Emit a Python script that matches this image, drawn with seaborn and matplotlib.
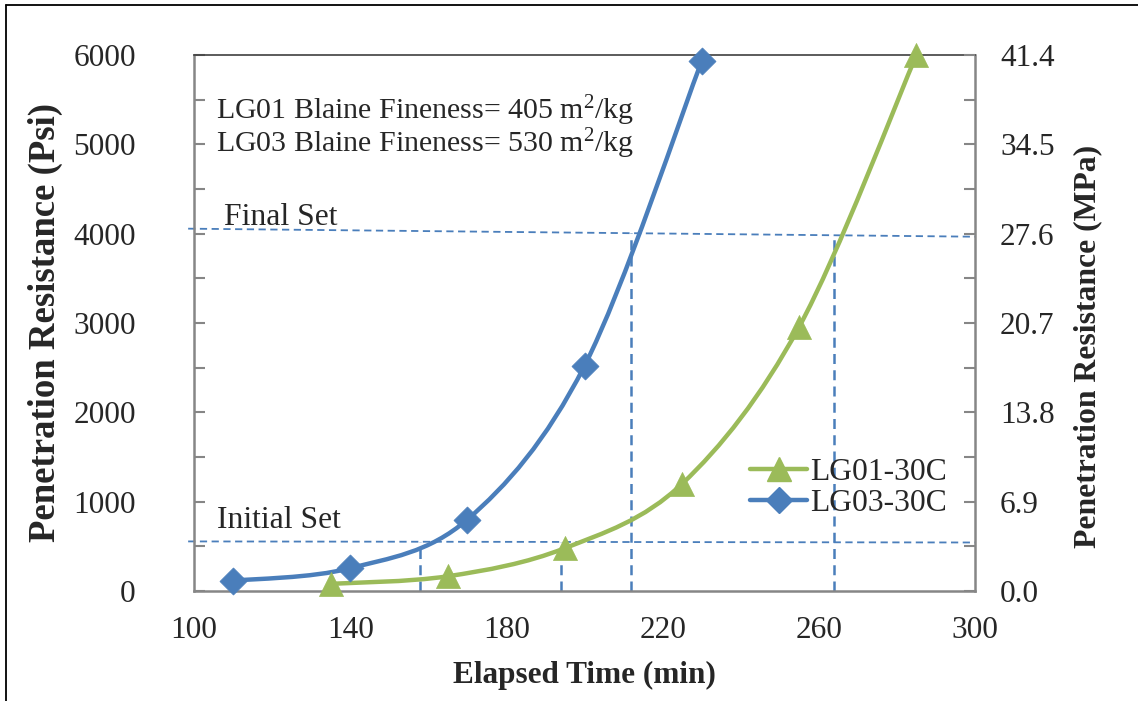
import numpy as np
import matplotlib
matplotlib.use("Agg")
import matplotlib.pyplot as plt
from matplotlib.path import Path
from matplotlib.patches import PathPatch
from matplotlib.lines import Line2D
from matplotlib.ticker import MultipleLocator, FixedLocator, FormatStrFormatter
import seaborn as sns

# Penetration resistance readings (psi) versus elapsed time (min)
lg01_time = [135, 165, 195, 225, 255, 285]
lg01_psi = [80, 165, 480, 1200, 2960, 6000]
lg03_time = [110, 140, 170, 200, 230]
lg03_psi = [115, 255, 800, 2520, 5930]

series_names = ["LG01-30C", "LG03-30C"]
fineness_notes = ["LG01 Blaine Fineness= 405 m$^{2}$/kg",
                  "LG03 Blaine Fineness= 530 m$^{2}$/kg"]

initial_set_x = [98.5, 300]
initial_set_y = [555, 543]
final_set_x = [98.5, 300]
final_set_y = [4056, 3966]
initial_set_times = [158, 194]
final_set_times = [212, 264]

x_ticks = [100, 140, 180, 220, 260, 300]
psi_ticks = [0, 1000, 2000, 3000, 4000, 5000, 6000]
mpa_ticks = [0.0, 6.9, 13.8, 20.7, 27.6, 34.5, 41.4]

BLUE = "#4A7EBB"
GREEN = "#9BBB59"
GREY = "#868686"

sns.set_theme(style="white")
plt.rcParams["font.family"] = ["Liberation Serif", "DejaVu Serif"]
plt.rcParams["mathtext.fontset"] = "custom"
plt.rcParams["mathtext.rm"] = "Liberation Serif"
plt.rcParams["mathtext.it"] = "Liberation Serif:italic"
plt.rcParams["mathtext.bf"] = "Liberation Serif:bold"


def smooth_path(xs, ys, k=1.0 / 6.0):
    """Cubic Bezier path through the points (Catmull-Rom style smoothing)."""
    p = np.column_stack([xs, ys]).astype(float)
    n = len(p)
    verts = [p[0]]
    codes = [Path.MOVETO]
    for i in range(n - 1):
        p_prev = p[i - 1] if i > 0 else p[i]
        p_next2 = p[i + 2] if i + 2 < n else p[i + 1]
        c1 = p[i] + (p[i + 1] - p_prev) * k
        c2 = p[i + 1] - (p_next2 - p[i]) * k
        verts += [c1, c2, p[i + 1]]
        codes += [Path.CURVE4] * 3
    return Path(verts, codes)


W, H = 1138, 701
fig = plt.figure(figsize=(W / 100, H / 100), dpi=100)
ax = fig.add_axes([194 / W, 1 - 591 / H, (975 - 194) / W, (591 - 55) / H])

# dashed guide lines for initial / final set
hdash = dict(color=BLUE, lw=1.3, ls=(0, (4, 2.5)), clip_on=False, zorder=1)
vdash = dict(color=BLUE, lw=1.8, ls=(0, (4, 2.5)), clip_on=False, zorder=1)
ax.plot(initial_set_x, initial_set_y, **hdash)
ax.plot(final_set_x, final_set_y, **hdash)
for t in initial_set_times:
    ax.plot([t, t], [0, np.interp(t, initial_set_x, initial_set_y)], **vdash)
for t in final_set_times:
    ax.plot([t, t], [0, np.interp(t, final_set_x, final_set_y)], **vdash)

# smoothed curves
for xs, ys, c in [(lg03_time, lg03_psi, BLUE), (lg01_time, lg01_psi, GREEN)]:
    ax.add_patch(PathPatch(smooth_path(xs, ys), facecolor="none", edgecolor=c,
                           lw=3.2, capstyle="round", joinstyle="round",
                           zorder=3, clip_on=False))

sns.scatterplot(x=lg03_time, y=lg03_psi, ax=ax, marker="D", s=190, color=BLUE,
                edgecolor=BLUE, linewidth=0.5, zorder=4, clip_on=False)
sns.scatterplot(x=lg01_time, y=lg01_psi, ax=ax, marker="^", s=300, color=GREEN,
                edgecolor=GREEN, linewidth=0.5, zorder=4, clip_on=False)

ax.set_xlim(100, 300)
ax.set_ylim(0, 6000)
ax.xaxis.set_major_locator(FixedLocator(x_ticks))
ax.xaxis.set_minor_locator(MultipleLocator(20))
ax.yaxis.set_major_locator(FixedLocator(psi_ticks))
ax.yaxis.set_minor_locator(MultipleLocator(500))

for side in ["left", "right", "bottom"]:
    ax.spines[side].set_color(GREY)
    ax.spines[side].set_linewidth(1.8)
ax.spines["top"].set_color("#404040")
ax.spines["top"].set_linewidth(1.2)

ax.tick_params(axis="x", which="both", direction="in", length=8, width=1.5,
               color=GREY, labelsize=22.5, pad=18, top=False)
ax.tick_params(axis="y", which="both", direction="in", length=8, width=1.5,
               color=GREY, labelsize=22.5, pad=42, right=False)

ax.set_xlabel("Elapsed Time (min)", fontsize=22.5, fontweight="bold")
ax.set_ylabel("Penetration Resistance (Psi)", fontsize=26.5, fontweight="bold")
ax.xaxis.set_label_coords(0.5, -0.1306)
ax.yaxis.set_label_coords(-0.168, 0.5)

# secondary axis in MPa
ax2 = ax.twinx()
ax2.set_ylim(0, 41.4)
ax2.yaxis.set_major_locator(FixedLocator(mpa_ticks))
ax2.yaxis.set_minor_locator(FixedLocator([v + 3.45 for v in mpa_ticks[:-1]]))
ax2.yaxis.set_major_formatter(FormatStrFormatter("%.1f"))
ax2.tick_params(axis="y", which="both", direction="in", length=8, width=1.5,
                color=GREY, labelsize=22.5, pad=18)
for s in ax2.spines.values():
    s.set_visible(False)
ax2.set_ylabel("Penetration Resistance (MPa)", fontsize=22.8, fontweight="bold")
ax2.yaxis.set_label_coords(1.1255, 0.457)

# annotations
for note, y in zip(fineness_notes, [5380, 5012]):
    ax.text(105.6, y, note, fontsize=21.5, va="center", ha="left")
ax.text(107.7, 4180, "Final Set", fontsize=22.8, va="center", ha="left")
ax.text(105.9, 785, "Initial Set", fontsize=22.8, va="center", ha="left")

handles = [
    Line2D([], [], color=GREEN, lw=3.2, marker="^", markersize=17),
    Line2D([], [], color=BLUE, lw=3.2, marker="D", markersize=13),
]
ax.legend(handles, series_names, loc="upper left", bbox_to_anchor=(0.712, 0.248),
          frameon=False, fontsize=22.8, handlelength=1.8, handletextpad=0.1,
          labelspacing=0.04, borderaxespad=0, borderpad=0)

# outer frame
fig.add_artist(Line2D([6 / W, 6 / W], [0, 1 - 5 / H], color="black", lw=1.3))
fig.add_artist(Line2D([6 / W, 1], [1 - 5 / H, 1 - 5 / H], color="black", lw=1.3))

fig.savefig("out.png", dpi=100, facecolor="white")
